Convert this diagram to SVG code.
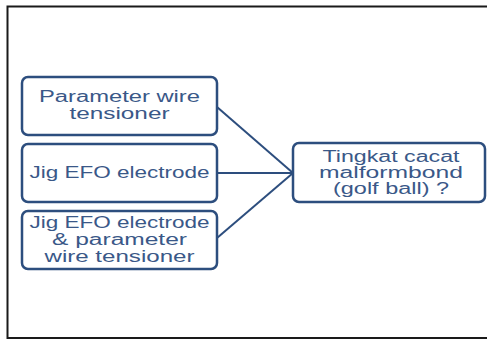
<svg xmlns="http://www.w3.org/2000/svg" width="487" height="339" viewBox="0 0 487 339">
<style>
.box{fill:#ffffff;stroke:#2D4E7E;stroke-width:2.5}
.t{font-family:"Liberation Sans",Arial,sans-serif;font-size:16px;fill:#3A5888;text-anchor:middle}
.c{stroke:#2D4E7E;stroke-width:2;fill:none}
</style>
<rect width="487" height="339" fill="#ffffff"/>
<path d="M487 6.5 H7.5 V338 H487" fill="none" stroke="#1a1a1a" stroke-width="2"/>
<g id="connectors">
<line class="c" x1="217" y1="107" x2="293" y2="173"/>
<line class="c" x1="217" y1="173" x2="293" y2="173"/>
<line class="c" x1="217" y1="238" x2="293" y2="173"/>
</g>
<g id="n1">
<rect class="box" x="22" y="77" width="195" height="58" rx="6"/>
<text class="t" x="119.5" y="102" textLength="161" lengthAdjust="spacingAndGlyphs">Parameter wire</text>
<text class="t" x="119.5" y="119" textLength="100" lengthAdjust="spacingAndGlyphs">tensioner</text>
</g>
<g id="n2">
<rect class="box" x="22" y="144" width="195" height="58" rx="6"/>
<text class="t" x="119.5" y="178" textLength="180" lengthAdjust="spacingAndGlyphs">Jig EFO electrode</text>
</g>
<g id="n3">
<rect class="box" x="22" y="211" width="195" height="58" rx="6"/>
<text class="t" x="119.5" y="228" textLength="180" lengthAdjust="spacingAndGlyphs">Jig EFO electrode</text>
<text class="t" x="119.5" y="245" textLength="135" lengthAdjust="spacingAndGlyphs">&amp; parameter</text>
<text class="t" x="119.5" y="262" textLength="150" lengthAdjust="spacingAndGlyphs">wire tensioner</text>
</g>
<g id="n4">
<rect class="box" x="293" y="143" width="192" height="59" rx="6"/>
<text class="t" x="391" y="162" textLength="137" lengthAdjust="spacingAndGlyphs">Tingkat cacat</text>
<text class="t" x="391" y="178" textLength="144" lengthAdjust="spacingAndGlyphs">malformbond</text>
<text class="t" x="391" y="194" textLength="116" lengthAdjust="spacingAndGlyphs">(golf ball) ?</text>
</g>
</svg>
